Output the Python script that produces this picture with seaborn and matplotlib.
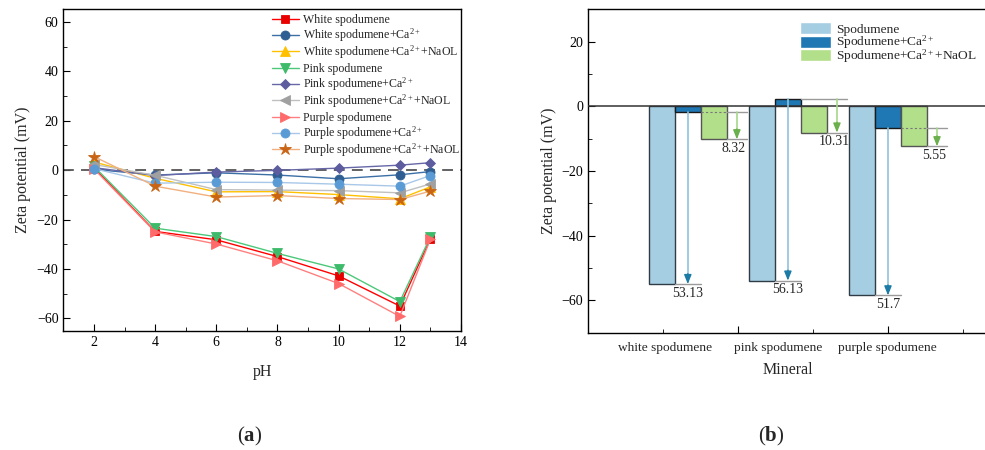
import matplotlib
matplotlib.use("Agg")
import matplotlib.pyplot as plt
import numpy as np
import pandas as pd
import seaborn as sns
from matplotlib.legend_handler import HandlerLine2D, HandlerPatch
from matplotlib.lines import Line2D
from matplotlib.patches import Rectangle
from matplotlib.ticker import MultipleLocator, FixedLocator

# ---------------- data: (a) zeta potential vs pH ----------------
ph = [2, 4, 6, 8, 10, 12, 13]

white = [1.0, -24.8, -28.2, -35.0, -42.8, -55.0, -27.8]
white_ca = [0.3, -2.0, -1.1, -2.0, -3.5, -1.9, -0.6]
white_ca_naol = [3.3, -3.3, -8.8, -8.7, -9.9, -11.6, -6.8]
pink = [1.5, -23.5, -26.9, -33.7, -40.0, -53.2, -27.0]
pink_ca = [1.0, -2.2, -0.8, -0.1, 0.8, 2.0, 3.0]
pink_ca_naol = [2.3, -2.1, -7.9, -8.1, -8.3, -9.2, -5.6]
purple = [0.5, -25.0, -29.9, -36.7, -45.9, -59.2, -28.0]
purple_ca = [0.6, -5.3, -4.9, -5.0, -5.7, -6.5, -2.2]
purple_ca_naol = [5.5, -6.5, -10.9, -10.3, -11.5, -11.9, -8.5]

series_names = [
    "White spodumene",
    r"White spodumene+Ca$^{2+}$",
    r"White spodumene+Ca$^{2+}$+NaOL",
    "Pink spodumene",
    r"Pink spodumene+Ca$^{2+}$",
    r"Pink spodumene+Ca$^{2+}$+NaOL",
    "Purple spodumene",
    r"Purple spodumene+Ca$^{2+}$",
    r"Purple spodumene+Ca$^{2+}$+NaOL",
]

# ---------------- data: (b) zeta potential by mineral ----------------
minerals = ["white spodumene", "pink spodumene", "purple spodumene"]
conditions = ["Spodumene", r"Spodumene+Ca$^{2+}$", r"Spodumene+Ca$^{2+}$+NaOL"]
ca_zeta = [-1.87, 2.2, -6.8]            # spodumene + Ca2+
ca_shift = [53.13, 56.13, 51.7]         # Ca2+ treated minus bare spodumene
naol_shift = [8.32, 10.31, 5.55]        # Ca2+ treated minus Ca2+ + NaOL

# ---------------- styling ----------------
sns.set_style("ticks")
plt.rcParams.update({
    "font.family": ["Liberation Serif", "DejaVu Serif"],
    "mathtext.fontset": "custom",
    "mathtext.rm": "Liberation Serif",
    "mathtext.it": "Liberation Serif:italic",
    "mathtext.bf": "Liberation Serif:bold",
    "axes.edgecolor": "black",
    "axes.linewidth": 1.0,
    "xtick.direction": "in",
    "ytick.direction": "in",
    "xtick.color": "black",
    "ytick.color": "black",
    "xtick.major.size": 5,
    "ytick.major.size": 5,
    "xtick.minor.size": 3,
    "ytick.minor.size": 3,
    "xtick.labelsize": 10,
    "ytick.labelsize": 10,
})

# Legend rows get a tall fixed-height handle box so that rows with and
# without superscripts share one pitch; the handles are re-centred on the text.
ROW_HH = 2.6
TEXT_MID = 0.32


class CentredLine(HandlerLine2D):
    def create_artists(self, legend, orig_handle, xdescent, ydescent,
                       width, height, fontsize, trans):
        artists = super().create_artists(legend, orig_handle, xdescent,
                                         ydescent, width, height, fontsize,
                                         trans)
        for a in artists:
            a.set_ydata(np.full_like(np.asarray(a.get_ydata(), float),
                                     TEXT_MID * fontsize))
        return artists


def legend_box(legend, orig_handle, xdescent, ydescent, width, height, fontsize):
    h = 0.9 * fontsize
    return Rectangle((-xdescent, TEXT_MID * fontsize - h / 2), width, h)


fig = plt.figure(figsize=(9.85, 4.5), dpi=100)
ax1 = fig.add_axes([0.0643, 0.265, 0.4037, 0.714])
ax2 = fig.add_axes([0.5967, 0.261, 0.4064, 0.718])

# ---------------- (a) ----------------
line_colors = ["#FF0000", "#3B6FA6", "#FFC000", "#4CC87A", "#6767A8",
               "#C0C0C0", "#FF7F7F", "#A9C8E8", "#F0B080"]
marker_colors = ["#E80000", "#2F5E92", "#FFC000", "#3DBA6A", "#5C5C9E",
                 "#A0A0A0", "#FF6B6B", "#5B9BD5", "#C86414"]
markers = ["s", "o", "^", "v", "D", "<", ">", "o", "*"]
msizes = [6, 6.5, 7, 7, 5.5, 7, 7, 6.5, 9]
values = [white, white_ca, white_ca_naol, pink, pink_ca, pink_ca_naol,
          purple, purple_ca, purple_ca_naol]

ax1.axhline(0, color="#555555", lw=1.3, ls=(0, (6, 4)), zorder=1.5)
for vals, name, lc, mc, mk, ms in zip(values, series_names, line_colors,
                                      marker_colors, markers, msizes):
    sns.lineplot(x=ph, y=vals, ax=ax1, color=lc, linewidth=1.0, marker=mk,
                 markersize=ms, markerfacecolor=mc, markeredgecolor=mc,
                 markeredgewidth=0.6, label=name, zorder=3)

ax1.set_xlim(1, 14)
ax1.set_ylim(-65, 65)
ax1.xaxis.set_major_locator(MultipleLocator(2))
ax1.xaxis.set_minor_locator(MultipleLocator(1))
ax1.yaxis.set_major_locator(MultipleLocator(20))
ax1.yaxis.set_minor_locator(MultipleLocator(10))
ax1.set_xlabel("pH", fontsize=11.5, labelpad=11)
ax1.set_ylabel("Zeta potential (mV)", fontsize=11.5, labelpad=4)
for s in ax1.spines.values():
    s.set_visible(True)
ax1.legend(loc="upper left", bbox_to_anchor=(0.524, 1.006), frameon=False,
           fontsize=8.6, handlelength=2.3, handleheight=ROW_HH,
           handletextpad=0.3, labelspacing=-0.57, borderpad=0.0,
           borderaxespad=0.0, handler_map={Line2D: CentredLine()})

# ---------------- (b) ----------------
spod_zeta = list(np.array(ca_zeta) - np.array(ca_shift))
naol_zeta = list(np.array(ca_zeta) - np.array(naol_shift))
df = pd.DataFrame({
    "Mineral": minerals * 3,
    "Condition": np.repeat(conditions, len(minerals)),
    "Zeta": spod_zeta + ca_zeta + naol_zeta,
})
bar_colors = ["#A6CEE3", "#1F78B4", "#B2DF8A"]
edge_colors = ["#2F3B45", "#1A1A1A", "#555555"]
sns.barplot(data=df, x="Mineral", y="Zeta", hue="Condition",
            order=minerals, hue_order=conditions, palette=bar_colors,
            saturation=1, width=0.78, gap=0, errorbar=None, linewidth=1.0,
            ax=ax2, zorder=2)
for cont, ec in zip(ax2.containers, edge_colors):
    for bar in cont:
        bar.set_edgecolor(ec)

ax2.axhline(0, color="#333333", lw=1.1, zorder=3)

gray = "#9A9A9A"
for i in range(len(minerals)):
    ca_bar = ax2.containers[1][i]
    na_bar = ax2.containers[2][i]
    w = ca_bar.get_width()
    xc = ca_bar.get_x() + w / 2
    y_sp, y_ca, y_na = spod_zeta[i], ca_zeta[i], naol_zeta[i]

    # Ca2+ shift: arrow from the Ca2+ level down to the bare spodumene level
    ax2.plot([ca_bar.get_x(), ca_bar.get_x() + w], [y_sp, y_sp],
             color=gray, lw=1.0, zorder=4)
    ax2.plot([xc, xc], [y_ca, y_sp + 1.5], color="#8DC3DC", lw=1.2, zorder=4)
    ax2.annotate("", xy=(xc, y_sp), xytext=(xc, y_sp + 3.2),
                 arrowprops=dict(arrowstyle="-|>,head_length=0.55,head_width=0.22",
                                 color="#1B7BA6", lw=1.0, shrinkA=0, shrinkB=0),
                 zorder=5)
    ax2.text(xc, y_sp - 0.8, f"{ca_shift[i]:g}", ha="center", va="top",
             fontsize=10)

    # NaOL shift: arrow beside the Ca2+ + NaOL bar
    x0 = na_bar.get_x()
    x1 = x0 + na_bar.get_width()
    xa = x1 + 0.1
    if y_ca < 0:
        ax2.plot([x0, x1], [y_ca, y_ca], color="#777777", lw=0.8,
                 ls=(0, (2, 2)), zorder=4)
        ax2.plot([x1, x1 + 0.2], [y_ca, y_ca], color=gray, lw=1.0, zorder=4)
    else:
        ax2.plot([x0, x1 + 0.2], [y_ca, y_ca], color=gray, lw=1.0, zorder=4)
    ax2.plot([x1, x1 + 0.2], [y_na, y_na], color=gray, lw=1.0, zorder=4)
    ax2.plot([xa, xa], [y_ca, y_na + 1.5], color="#A5D88A", lw=1.2, zorder=4)
    ax2.annotate("", xy=(xa, y_na), xytext=(xa, y_na + 3.2),
                 arrowprops=dict(arrowstyle="-|>,head_length=0.55,head_width=0.22",
                                 color="#6AB04C", lw=1.0, shrinkA=0, shrinkB=0),
                 zorder=5)
    ax2.text(x1 + 0.07, y_na - 0.8, f"{naol_shift[i]:g}", ha="center",
             va="top", fontsize=10)

ax2.set_xlim(-1, 3)
ax2.set_ylim(-70, 30)
ax2.yaxis.set_major_locator(MultipleLocator(20))
ax2.yaxis.set_minor_locator(MultipleLocator(10))
ax2.xaxis.set_major_locator(FixedLocator([0.5, 2.0]))
ax2.xaxis.set_minor_locator(FixedLocator([-0.25, 1.25, 2.75]))
ax2.set_xticklabels([])
ax2.tick_params(axis="x", which="both", top=False)
for xpos, name in zip([-0.23, 0.9, 1.99], minerals):
    ax2.annotate(name, xy=(xpos, 0), xycoords=("data", "axes fraction"),
                 xytext=(0, -9), textcoords="offset pixels", ha="center",
                 va="top", fontsize=9.6)
ax2.set_xlabel("Mineral", fontsize=11.5, labelpad=18)
ax2.set_ylabel("Zeta potential (mV)", fontsize=11.5, labelpad=3)
ax2.spines["right"].set_visible(False)
ax2.spines["top"].set_visible(True)

handles, labels = ax2.get_legend_handles_labels()
ax2.legend(handles, labels, loc="upper left", bbox_to_anchor=(0.53, 0.981),
           frameon=False, fontsize=9.6, handlelength=2.35, handleheight=ROW_HH,
           handletextpad=0.35, labelspacing=-0.935, borderpad=0.0,
           borderaxespad=0.0,
           handler_map={Rectangle: HandlerPatch(patch_func=legend_box)})

fig.text(0.254, 0.031, r"($\mathbf{a}$)", ha="center", va="center", fontsize=15)
fig.text(0.783, 0.031, r"($\mathbf{b}$)", ha="center", va="center", fontsize=15)

fig.savefig("out.png", dpi=100)
